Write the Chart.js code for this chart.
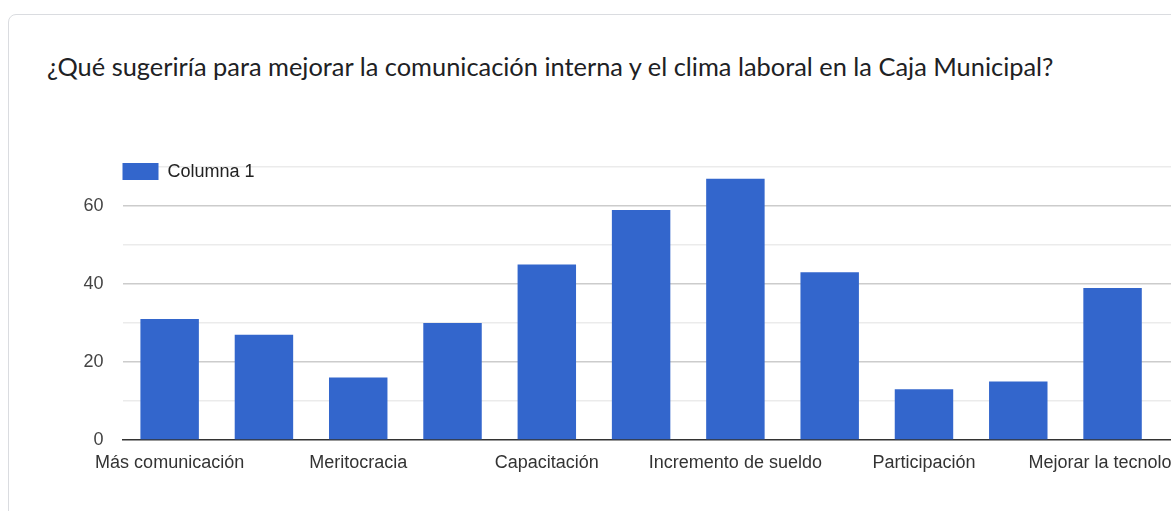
<!DOCTYPE html>
<html lang="es">
<head>
<meta charset="utf-8">
<script src="https://cdn.jsdelivr.net/npm/chart.js@4.4.1/dist/chart.umd.min.js"></script>
<style>
    html, body {
        margin: 0;
        padding: 0;
        width: 1171px;
        height: 511px;
        overflow: hidden;
        background: #fff;
    }
    .card {
        position: absolute;
        left: 8px;
        top: 14px;
        width: 1300px;
        height: 600px;
        border: 1px solid #dadce0;
        border-radius: 8px;
        box-sizing: border-box;
    }
    .card-title {
        position: absolute;
        left: 47px;
        top: 55px;
        font-family: Lato, "Liberation Sans", sans-serif;
        font-size: 25.4px;
        line-height: 22px;
        color: #202124;
        white-space: nowrap;
    }
    #bar-chart {
        position: absolute;
        left: 0;
        top: 0;
    }
</style>
</head>
<body>
<div class="card"></div>
<div class="card-title">¿Qué sugeriría para mejorar la comunicación interna y el clima laboral en la Caja Municipal?</div>
<canvas id="bar-chart" width="1254" height="511"></canvas>
<script>
// respuestas por categoría
var categorias = [
    "Más comunicación", "Reuniones", "Meritocracia", "Trabajo en equipo",
    "Capacitación", "Reconocimiento", "Incremento de sueldo", "Liderazgo",
    "Participación", "Mejor trato", "Mejorar la tecnología", ""
];
var columna1 = [31, 27, 16, 30, 45, 59, 67, 43, 13, 15, 39, null];
var yTicks = [0, 20, 40, 60];
var serieNombre = "Columna 1";
var azul = "#3366cc";

/*
*   Leyenda dibujada dentro del área del gráfico, arriba a la izquierda
*/
var leyendaInterna = {
    id: 'leyendaInterna',
    afterDatasetsDraw: function(chart) {
        var ctx = chart.ctx;
        var area = chart.chartArea;
        var ds = chart.data.datasets[0];
        var y = area.top - 4;
        ctx.save();
        ctx.fillStyle = ds.backgroundColor;
        ctx.fillRect(area.left, y, 36, 17);
        ctx.fillStyle = "#222";
        ctx.font = '18px "Liberation Sans", Arial, sans-serif';
        ctx.textBaseline = 'middle';
        ctx.fillText(ds.label, area.left + 45, y + 9);
        ctx.restore();
    }
};

Chart.defaults.font.family = '"Liberation Sans", Arial, sans-serif';
Chart.defaults.font.size = 18;

var ctx = document.getElementById("bar-chart").getContext('2d');
var myChart = new Chart(ctx, {
    type: 'bar',
    data: {
        labels: categorias,
        datasets: [{
            label: serieNombre,
            data: columna1,
            backgroundColor: azul,
            borderWidth: 0,
            categoryPercentage: 1,
            barPercentage: 0.62
        }]
    },
    options: {
        responsive: false,
        animation: false,
        layout: {
            padding: { top: 167, left: 0, right: 0, bottom: 0 }
        },
        plugins: {
            legend: { display: false },
            tooltip: { enabled: false }
        },
        scales: {
            x: {
                grid: { display: false, drawTicks: false },
                border: { display: true, color: '#333', width: 1.5 },
                ticks: {
                    autoSkip: false,
                    maxRotation: 0,
                    padding: 12,
                    color: '#333',
                    callback: function(value, index) {
                        return index % 2 === 0 ? this.getLabelForValue(value) : '';
                    }
                },
                afterFit: function(scale) {
                    scale.height = 71;
                }
            },
            y: {
                min: 0,
                max: 70,
                border: { display: false },
                grid: {
                    drawTicks: false,
                    color: function(c) {
                        if (c.tick.value === 0) return 'rgba(0,0,0,0)';
                        return yTicks.indexOf(c.tick.value) >= 0 ? '#cccccc' : '#ebebeb';
                    },
                    lineWidth: 1.5
                },
                ticks: {
                    stepSize: 10,
                    padding: 19,
                    color: '#444',
                    callback: function(value) {
                        return yTicks.indexOf(value) >= 0 ? value : '';
                    }
                },
                afterFit: function(scale) {
                    scale.width = 122.5;
                }
            }
        }
    },
    plugins: [leyendaInterna]
});
</script>
</body>
</html>
